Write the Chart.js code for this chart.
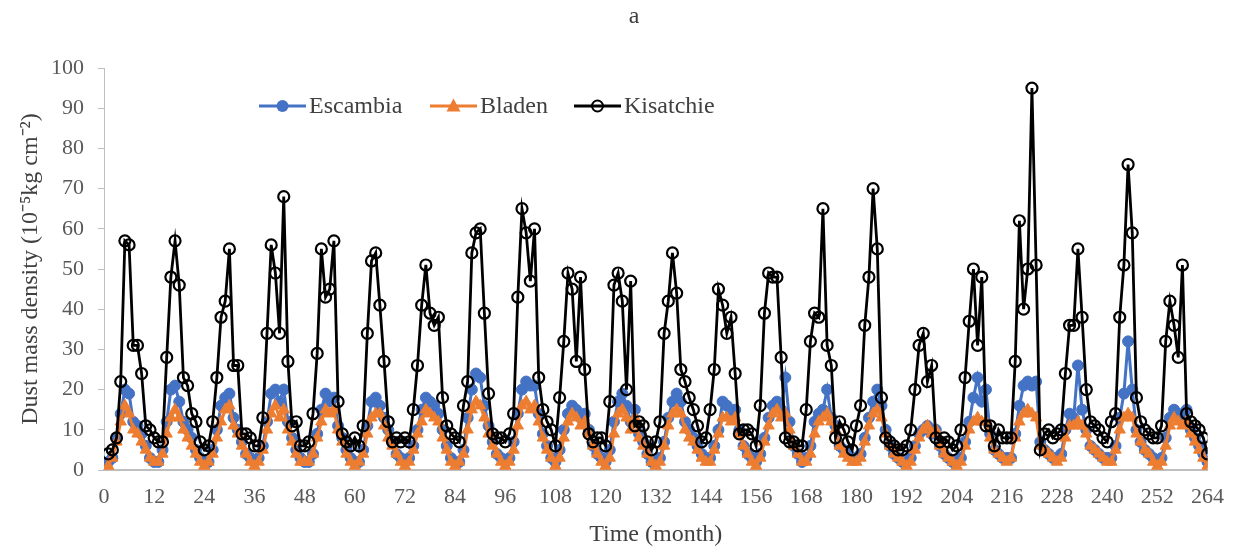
<!DOCTYPE html>
<html><head><meta charset="utf-8">
<script src="https://cdn.jsdelivr.net/npm/chart.js@4.4.0/dist/chart.umd.min.js"></script>
<style>html,body{margin:0;padding:0;background:#fff;}#wrap{width:1238px;height:556px;}</style>
</head><body><div id="wrap"><canvas id="c" width="1238" height="556"></canvas></div>
<script>
const seriesNames = ["Escambia", "Bladen", "Kisatchie"];
const xTickStep = 12;
const xMax = 264;
const yMax = 100;

const escambia = [
 2,3,8,14,20,19,12,11,9,6,3,2,
 2,5,12,20,21,17,12,10,8,5,3,2,
 2,5,10,16,18,19,13,10,7,4,3,2,
 3,6,12,19,20,17,20,12,8,5,3,2,
 2,4,9,15,19,17,18,11,8,5,3,2,
 2,5,11,17,18,16,13,10,7,4,3,2,
 3,6,10,15,18,17,16,14,10,6,3,2,
 2,5,13,20,24,23,16,11,7,4,3,2,
 3,7,14,20,22,21,21,14,9,6,3,2,
 5,10,14,16,15,13,14,10,6,4,3,2,
 5,12,17,19,16,12,15,9,7,4,2,2,
 3,7,13,17,19,17,12,10,8,6,4,3,
 3,6,10,17,16,14,15,10,6,4,3,2,
 4,8,13,16,17,15,23,12,6,4,2,3,
 6,12,14,15,20,13,11,6,5,4,3,3,
 4,8,13,17,20,16,10,6,4,3,2,2,
 3,6,9,10,11,9,10,6,4,3,2,2,
 3,7,12,18,23,17,20,9,5,4,3,3,
 3,9,16,21,22,21,22,7,5,4,3,3,
 4,10,14,13,26,15,10,6,5,4,3,3,
 3,6,13,19,32,20,10,7,5,4,3,2,
 3,8,13,15,14,12,15,10,8,6,4,2
];

const bladen = [
 1,3,7,12,16,14,10,9,7,5,3,2,
 2,4,9,13,15,13,10,8,6,4,2,1,
 2,4,8,12,15,16,11,9,6,4,2,1,
 2,5,10,14,16,13,15,10,7,4,2,2,
 2,4,8,12,15,14,15,10,7,4,2,1,
 2,4,9,13,14,14,11,8,6,4,2,1,
 2,5,9,12,15,14,13,12,8,5,2,1,
 2,4,10,15,17,16,13,9,6,4,2,1,
 2,5,11,16,17,15,16,12,8,5,3,1,
 3,8,12,14,13,11,12,9,6,4,2,1,
 3,9,14,15,13,10,13,8,6,4,2,1,
 2,6,11,14,15,14,10,8,7,5,3,2,
 2,5,9,13,13,12,13,9,6,4,2,1,
 3,7,11,14,15,13,14,10,6,4,2,2,
 4,9,12,13,14,12,10,6,4,3,2,2,
 3,7,11,14,15,13,9,6,4,3,2,1,
 2,5,8,10,11,9,10,6,4,3,2,1,
 2,6,10,12,13,12,12,8,5,4,3,2,
 3,8,12,14,15,14,13,6,5,4,3,2,
 3,8,11,11,12,11,9,6,5,4,3,2,
 2,5,10,13,14,13,9,7,5,4,2,1,
 2,6,11,13,12,11,12,9,7,5,3,1
];

const kisatchie = [
 4,5,8,22,57,56,31,31,24,11,10,8,
 7,7,28,48,57,46,23,21,14,12,7,5,
 6,12,23,38,42,55,26,26,9,9,8,6,
 6,13,34,56,49,34,68,27,11,12,6,6,
 7,14,29,55,43,45,57,17,9,7,6,8,
 6,11,34,52,54,41,27,12,7,8,7,8,
 7,15,26,41,51,39,36,38,18,11,9,8,
 7,16,22,54,59,60,39,19,9,8,8,7,
 9,14,43,65,59,47,60,23,15,12,10,6,
 18,32,49,45,27,48,25,9,7,8,8,6,
 17,46,49,42,20,47,11,12,11,7,5,7,
 12,34,42,54,44,25,22,18,15,11,7,8,
 15,25,45,41,34,38,24,9,10,10,9,6,
 16,39,49,48,48,28,8,7,7,6,6,15,
 32,39,38,65,31,26,8,12,10,7,5,11,
 16,36,48,70,55,18,8,7,6,5,5,6,
 10,20,31,34,22,26,8,7,8,7,5,6,
 10,23,37,50,31,48,11,11,6,10,8,8,
 8,27,62,40,50,95,51,5,9,10,8,9,
 10,24,36,36,55,38,20,12,11,10,8,7,
 12,14,38,51,76,59,18,12,10,9,8,8,
 11,32,42,36,28,51,14,12,11,10,8,4
];

const months = escambia.map((_, i) => i + 1);
const toXY = arr => arr.map((v, i) => ({x: months[i], y: v}));

const FONT = '"Liberation Serif", "Times New Roman", serif';
const BLUE = '#4472C4', ORANGE = '#ED7D31', BLACK = '#000000';

const overlay = {
  id: 'overlay',
  afterDraw(chart) {
    const ctx = chart.ctx;
    ctx.save();
    ctx.fillStyle = '#404040';
    ctx.font = '24px ' + FONT;
    ctx.textAlign = 'center';
    ctx.textBaseline = 'middle';
    ctx.fillText('a', 634, 17);
    const items = [
      {x: 259, color: BLUE, style: 'circle', label: seriesNames[0]},
      {x: 430, color: ORANGE, style: 'triangle', label: seriesNames[1]},
      {x: 574, color: BLACK, style: 'open', label: seriesNames[2]}
    ];
    const y = 106;
    items.forEach(it => {
      ctx.strokeStyle = it.color;
      ctx.lineWidth = 3;
      ctx.beginPath(); ctx.moveTo(it.x, y); ctx.lineTo(it.x + 47, y); ctx.stroke();
      const cx = it.x + 23.5;
      if (it.style === 'circle') {
        ctx.fillStyle = it.color;
        ctx.beginPath(); ctx.arc(cx, y, 6, 0, Math.PI * 2); ctx.fill();
      } else if (it.style === 'triangle') {
        ctx.fillStyle = it.color;
        ctx.beginPath(); ctx.moveTo(cx, y - 7.5); ctx.lineTo(cx + 7, y + 5.5); ctx.lineTo(cx - 7, y + 5.5); ctx.closePath(); ctx.fill();
      } else {
        ctx.lineWidth = 2;
        ctx.beginPath(); ctx.arc(cx, y, 5.5, 0, Math.PI * 2); ctx.stroke();
      }
      ctx.fillStyle = '#404040';
      ctx.font = '24px ' + FONT;
      ctx.textAlign = 'left';
      ctx.fillText(it.label, it.x + 50, y + 1);
    });
    ctx.restore();
  }
};

new Chart(document.getElementById('c'), {
  type: 'line',
  data: {
    datasets: [
      {label: seriesNames[0], data: toXY(escambia), borderColor: BLUE, backgroundColor: BLUE,
       borderWidth: 3, pointStyle: 'circle', pointRadius: 5.5, pointBackgroundColor: BLUE, pointBorderColor: BLUE, pointBorderWidth: 1, order: 3},
      {label: seriesNames[1], data: toXY(bladen), borderColor: ORANGE, backgroundColor: ORANGE,
       borderWidth: 3, pointStyle: 'triangle', pointRadius: 6.5, pointBackgroundColor: ORANGE, pointBorderColor: ORANGE, pointBorderWidth: 1, order: 2},
      {label: seriesNames[2], data: toXY(kisatchie), borderColor: BLACK, backgroundColor: 'rgba(0,0,0,0)',
       borderWidth: 2.8, pointStyle: 'circle', pointRadius: 5.5, pointBackgroundColor: 'rgba(0,0,0,0)', pointBorderColor: BLACK, pointBorderWidth: 2.2, order: 1}
    ]
  },
  options: {
    responsive: false,
    animation: false,
    devicePixelRatio: 1,
    layout: {padding: {left: 0, right: 20, top: 68, bottom: 0}},
    plugins: {legend: {display: false}, title: {display: false}, tooltip: {enabled: false}},
    scales: {
      x: {
        type: 'linear', min: 0, max: xMax,
        ticks: {stepSize: xTickStep, color: '#595959', font: {family: FONT, size: 22}, padding: 14, maxRotation: 0, autoSkip: false},
        grid: {display: false, drawTicks: false},
        border: {display: true, color: '#BFBFBF', width: 2},
        title: {display: true, text: 'Time (month)', color: '#404040', font: {family: FONT, size: 24}, padding: {top: 0, bottom: 7}},
        afterFit(s) { s.height = 86; }
      },
      y: {
        min: 0, max: yMax,
        ticks: {stepSize: 10, color: '#595959', font: {family: FONT, size: 22}, padding: 14},
        grid: {display: true, drawOnChartArea: false, drawTicks: true, tickLength: 6, color: '#BFBFBF', lineWidth: 1},
        border: {display: true, color: '#BFBFBF', width: 1},
        title: {display: true, text: 'Dust mass density (10\u207B\u2075kg cm\u207B\u00B2)', color: '#404040', font: {family: FONT, size: 24}, padding: {top: 16, bottom: 0}},
        afterFit(s) { s.width = 104; }
      }
    }
  },
  plugins: [overlay]
});
</script></body></html>
